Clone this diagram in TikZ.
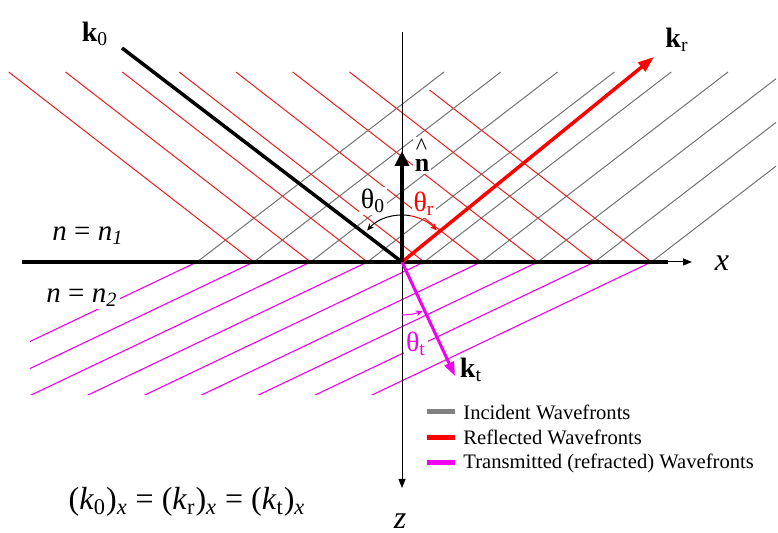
\documentclass[tikz,border=0pt]{standalone}
\usepackage{fontspec}
\setmainfont{Liberation Serif}
\usetikzlibrary{arrows.meta,positioning}
\definecolor{fuchsia}{RGB}{240,0,240}
\definecolor{fronred}{RGB}{235,30,30}
\tikzset{
  incfront/.style={draw=black!55, line width=0.5pt},
  reffront/.style={draw=fronred, line width=0.5pt},
  trafront/.style={draw=fuchsia, line width=0.55pt},
  axisline/.style={line width=0.5pt, -{Triangle[length=4.5pt,width=3.5pt]}},
  kvec/.style={line width=1.75pt},
  anglearc/.style={line width=0.5pt, -{Stealth[length=3.5pt,width=3pt]}},
  figlabel/.style={fill=white, inner sep=1pt, font=\fontsize{14}{16}\selectfont},
  leglabel/.style={anchor=west, inner sep=0pt, font=\fontsize{10.3}{12}\selectfont},
  legswatch/.style={minimum width=14pt, minimum height=2.5pt, inner sep=0pt},
}

\begin{document}
\begin{tikzpicture}[x=0.5pt,y=-0.5pt]
  \useasboundingbox (0,0) rectangle (778,533);
  \coordinate (O) at (402,262);
  % wavefronts
  \begin{scope}
    \clip (0,60) rectangle (776,262);
    \foreach \k in {0,...,8}
      \draw[incfront] (197+56.8*\k,262) -- ++(1.3*190,-190);
  \end{scope}
  \foreach \k/\h in {1/190,2/190,3/190,4/190,5/190,6/190,7/190,8/172}
    \draw[reffront] (197+56.8*\k,262) -- ++(-1.29*\h,-\h);
  \begin{scope}
    \clip (30,262) rectangle (778,395);
    \foreach \k in {0,...,8}
      \draw[trafront] (197+56.8*\k,262) -- ++(-2.1*140,140);
  \end{scope}
  % axes
  \coordinate (xbeg) at (22,262);
  \coordinate (xthick) at (668,262);
  \coordinate (xtip) at (692,262);
  \coordinate (ztop) at (402,32);
  \coordinate (ztip) at (402,488);
  \draw[axisline] (xbeg) -- (xtip);
  \draw[line width=2pt] (xbeg) -- (xthick);
  \draw[axisline] (ztop) -- (ztip);
  % wave vectors
  \coordinate (k0) at (122,48);
  \coordinate (kr) at (654,57);
  \coordinate (kt) at (455,376);
  \coordinate (nh) at (402,151);
  \draw[kvec] (k0) -- (O);
  \draw[kvec, red, -{Triangle[length=8pt,width=5.5pt]}] (O) -- (kr);
  \draw[kvec, line width=1.5pt, fuchsia, -{Triangle[length=7pt,width=5pt]}] (O) -- (kt);
  \draw[kvec, line width=2.25pt, -{Triangle[length=7.5pt,width=7pt]}] (O) -- (nh);
  % labels
  \node[figlabel, font=\fontsize{13}{15}\selectfont, anchor=base] (nlab) at (422,172)
    {\rlap{\kern0.6pt\raisebox{8.5pt}{\fontsize{12}{14}\selectfont\textasciicircum}}\textbf{n}};
  \node[figlabel] (k0lab) at (95,34) {\textbf{k}\textsubscript{0}};
  \node[figlabel] (krlab) at (677,40) {\textbf{k}\textsubscript{r}};
  \node[figlabel] (ktlab) at (471,370) {\textbf{k}\textsubscript{t}};
  \node[figlabel] (th0) at (373,201) {θ\textsubscript{0}};
  \node[figlabel, text=red] (thr) at (424,204) {θ\textsubscript{r}};
  \node[figlabel, text=fuchsia] (tht) at (416,344) {θ\textsubscript{t}};
  \node[figlabel, font=\fontsize{14.5}{16}\selectfont] (n1) at (88,236)
    {\textit{n} = \textit{n}\textsubscript{\textit{1}}};
  \node[figlabel, font=\fontsize{14.5}{16}\selectfont] (n2) at (82,298)
    {\textit{n} = \textit{n}\textsubscript{\textit{2}}};
  \node[figlabel, font=\fontsize{16}{18}\selectfont\itshape] (xlab) at (722,263) {x};
  \node[figlabel, font=\fontsize{16}{18}\selectfont\itshape] (zlab) at (400,521) {z};
  \node[font=\fontsize{16}{18}\selectfont] (eq) at (187,502)
    {(\textit{k}\textsubscript{0})\textsubscript{\textit{x}} =
     (\textit{k}\textsubscript{r})\textsubscript{\textit{x}} =
     (\textit{k}\textsubscript{t})\textsubscript{\textit{x}}};
  % angle arcs
  \draw[anglearc] ([shift={(280:47)}]O) arc[start angle=280, end angle=222, radius=47];
  \draw[anglearc, red] ([shift={(280:47)}]O) arc[start angle=280, end angle=318, radius=47];
  \draw[anglearc, fuchsia] ([shift={(90:53)}]O) arc[start angle=90, end angle=67, radius=53];
  % legend
  \foreach \c/\t [count=\i] in {black!50/Incident Wavefronts,red/Reflected Wavefronts,fuchsia/Transmitted (refracted) Wavefronts}{
    \node[leglabel] (leg\i) at (463,386.5+25.5*\i) {\t};
    \node[legswatch, fill=\c, left=4pt of leg\i] (sw\i) {};
  }
\end{tikzpicture}
\end{document}
